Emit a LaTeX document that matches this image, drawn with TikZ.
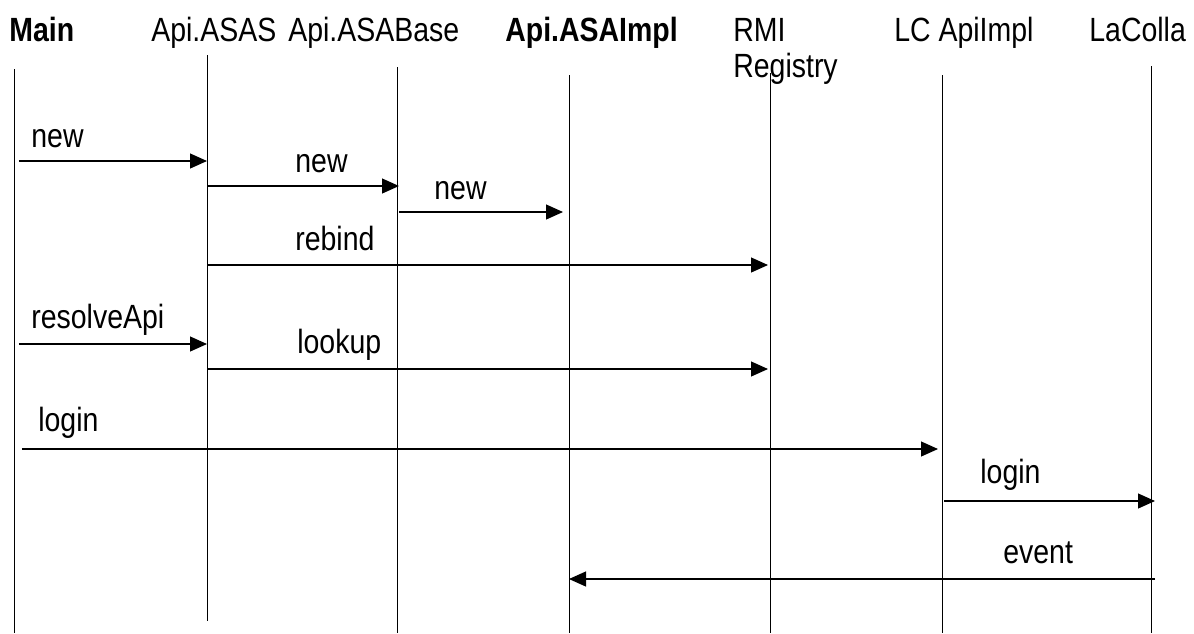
\documentclass[tikz,border=0pt]{standalone}
\usepackage{fontspec}
\setmainfont{Liberation Sans}
\usepackage{tikz}
\usetikzlibrary{calc}
\usetikzlibrary{arrows.meta}

% glyphs in the picture are a bit taller than wide
\newcommand{\tall}[1]{\scalebox{1}[1.18]{#1}}

\begin{document}
\begin{tikzpicture}[x=0.02cm,y=-0.02cm,
    font=\fontsize{16.2pt}{19pt}\selectfont,
    life/.style={line width=0.55pt},
    msg/.style={line width=0.65pt,-{Triangle[length=0.34cm,width=0.3cm]}},
    lbl/.style={inner sep=0pt,anchor=base west}]
      \useasboundingbox (0,0) rectangle (1194,633);

      % objects
      \node[lbl] (main) at (9,41) {\tall{\bfseries Main}};
      \node[lbl] (asas) at (151,41) {\tall{Api.ASAS}};
      \node[lbl] (asabase) at (288,41) {\tall{Api.ASABase}};
      \node[lbl] (asaimpl) at (505,41) {\tall{\bfseries Api.ASAImpl}};
      \node[lbl] (rmi) at (733,41) {\tall{RMI}};
      \node[lbl] (registry) at (733,77) {\tall{Registry}};
      \node[lbl] (lcapi) at (894,41) {\tall{LC ApiImpl}};
      \node[lbl] (lacolla) at (1089,41) {\tall{LaColla}};

      % lifelines
      \coordinate (mainL) at (14,69);      \coordinate (mainE) at (14,633);
      \coordinate (asasL) at (207,55);     \coordinate (asasE) at (207,621);
      \coordinate (asabaseL) at (397,67);  \coordinate (asabaseE) at (397,633);
      \coordinate (asaimplL) at (569,75);  \coordinate (asaimplE) at (569,633);
      \coordinate (rmiL) at (770,73);      \coordinate (rmiE) at (770,633);
      \coordinate (lcapiL) at (942,75);    \coordinate (lcapiE) at (942,633);
      \coordinate (lacollaL) at (1151,66); \coordinate (lacollaE) at (1151,633);
      \foreach \l in {main,asas,asabase,asaimpl,rmi,lcapi,lacolla}
        \draw[life] (\l L) -- (\l E);

      % messages
      \coordinate (m1) at (0,161);
      \coordinate (m2) at (0,186);
      \coordinate (m3) at (0,212);
      \coordinate (m4) at (0,265);
      \coordinate (m5) at (0,344);
      \coordinate (m6) at (0,369);
      \coordinate (m7) at (0,449);
      \coordinate (m8) at (0,501);
      \coordinate (m9) at (0,579);

      \draw[msg] ([xshift=0.1cm]mainL |- m1) -- (asasL |- m1);
      \draw[msg] (asasL |- m2) -- ([xshift=0.04cm]asabaseL |- m2);
      \draw[msg] ([xshift=0.04cm]asabaseL |- m3) -- ([xshift=-0.12cm]asaimplL |- m3);
      \draw[msg] (asasL |- m4) -- ([xshift=-0.04cm]rmiL |- m4);
      \draw[msg] ([xshift=0.1cm]mainL |- m5) -- (asasL |- m5);
      \draw[msg] (asasL |- m6) -- ([xshift=-0.04cm]rmiL |- m6);
      \draw[msg] ([xshift=0.16cm]mainL |- m7) -- ([xshift=-0.08cm]lcapiL |- m7);
      \draw[msg] ([xshift=0.04cm]lcapiL |- m8) -- ([xshift=0.08cm]lacollaL |- m8);
      \draw[msg] ([xshift=0.08cm]lacollaL |- m9) -- (asaimplL |- m9);

      \node[lbl] (n1) at (31,147) {\tall{new}};
      \node[lbl] (n2) at (295,172) {\tall{new}};
      \node[lbl] (n3) at (434,199) {\tall{new}};
      \node[lbl] (n4) at (295,250) {\tall{rebind}};
      \node[lbl] (n5) at (31,328) {\tall{resolveApi}};
      \node[lbl] (n6) at (297,353) {\tall{lookup}};
      \node[lbl] (n7) at (38,431) {\tall{login}};
      \node[lbl] (n8) at (980,483) {\tall{login}};
      \node[lbl] (n9) at (1003,563) {\tall{event}};
    \end{tikzpicture}
\end{document}
